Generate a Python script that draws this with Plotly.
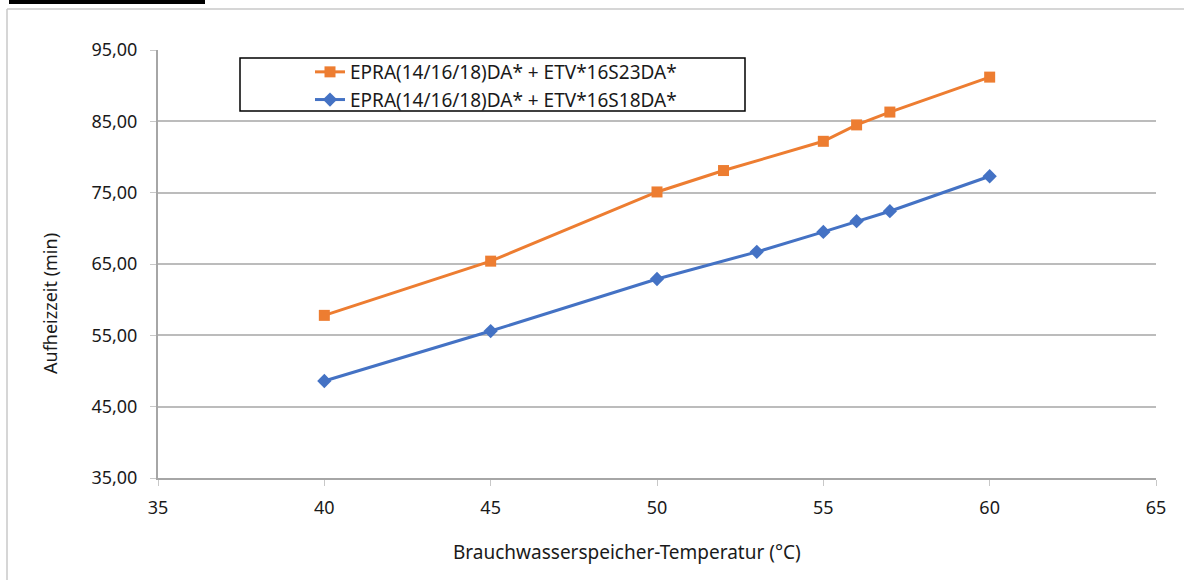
import plotly.graph_objects as go

temps_orange = [40, 45, 50, 52, 55, 56, 57, 60]
vals_orange = [57.8, 65.4, 75.1, 78.1, 82.2, 84.5, 86.3, 91.2]
temps_blue = [40, 45, 50, 53, 55, 56, 57, 60]
vals_blue = [48.6, 55.6, 62.9, 66.7, 69.5, 71.0, 72.4, 77.3]
name_orange = "EPRA(14/16/18)DA* + ETV*16S23DA*"
name_blue = "EPRA(14/16/18)DA* + ETV*16S18DA*"
x_ticks = [35, 40, 45, 50, 55, 60, 65]
y_ticks = [35, 45, 55, 65, 75, 85, 95]

W, H = 1184, 580
L, R, T, B = 158, 28, 50, 102
pw, ph = W - L - R, H - T - B

def px(x):
    return (x - L) / pw

def py(y):
    return (H - B - y) / ph

font = "Noto Sans, Open Sans, sans-serif"
fig = go.Figure()
fig.add_trace(go.Scatter(x=temps_orange, y=vals_orange, name=name_orange, mode="lines+markers",
                         line=dict(color="#ED7D31", width=3),
                         marker=dict(symbol="square", size=11, color="#ED7D31")))
fig.add_trace(go.Scatter(x=temps_blue, y=vals_blue, name=name_blue, mode="lines+markers",
                         line=dict(color="#4472C4", width=3),
                         marker=dict(symbol="diamond", size=11, color="#4472C4")))

fig.update_layout(
    width=W, height=H,
    margin=dict(l=L, r=R, t=T, b=B),
    paper_bgcolor="white", plot_bgcolor="white",
    separators=",.",
    font=dict(family=font, size=18, color="#1a1a1a"),
    legend=dict(x=px(310), y=py(53), xanchor="left", yanchor="top",
                bgcolor="rgba(0,0,0,0)", borderwidth=0, font=dict(size=19),
                tracegroupgap=0),
    xaxis=dict(range=[35, 65], tickvals=x_ticks, showgrid=False, zeroline=False,
               showline=True, linecolor="#a6a6a6", linewidth=2,
               ticks="outside", ticklen=6, tickcolor="#c8c8c8", tickwidth=1,
               ticklabelstandoff=6, tickfont=dict(size=18)),
    yaxis=dict(range=[35, 95], tickvals=y_ticks, tickformat=".2f", showgrid=True,
               gridcolor="#bcbcbc", gridwidth=1.5, zeroline=False,
               showline=True, linecolor="#a6a6a6", linewidth=2,
               ticks="outside", ticklen=6, tickcolor="#c8c8c8", tickwidth=1,
               ticklabelstandoff=9, tickfont=dict(size=18)),
    annotations=[
        dict(text="Brauchwasserspeicher-Temperatur (°C)", xref="paper", yref="paper",
             x=px(627), y=py(552), xanchor="center", yanchor="middle",
             showarrow=False, font=dict(size=19)),
        dict(text="Aufheizzeit (min)", xref="paper", yref="paper",
             x=px(50), y=py(304), xanchor="center", yanchor="middle",
             showarrow=False, textangle=-90, font=dict(size=18)),
    ],
    shapes=[
        dict(type="rect", xref="paper", yref="paper", x0=px(240), x1=px(745), y0=py(111), y1=py(58),
             line=dict(color="black", width=1.5), fillcolor="rgba(0,0,0,0)"),
        dict(type="line", xref="paper", yref="paper", x0=px(7), x1=px(7), y0=py(9), y1=py(600),
             line=dict(color="#c8c8c8", width=1.5)),
        dict(type="line", xref="paper", yref="paper", x0=px(7), x1=px(1200), y0=py(9), y1=py(9),
             line=dict(color="#c8c8c8", width=1.5)),
        dict(type="rect", xref="paper", yref="paper", x0=px(9), x1=px(205), y0=py(4), y1=py(-2),
             line=dict(width=0), fillcolor="black"),
    ],
)
fig.write_html("out.html", config={"displayModeBar": False},
               post_script="document.body.style.margin='0px';")
